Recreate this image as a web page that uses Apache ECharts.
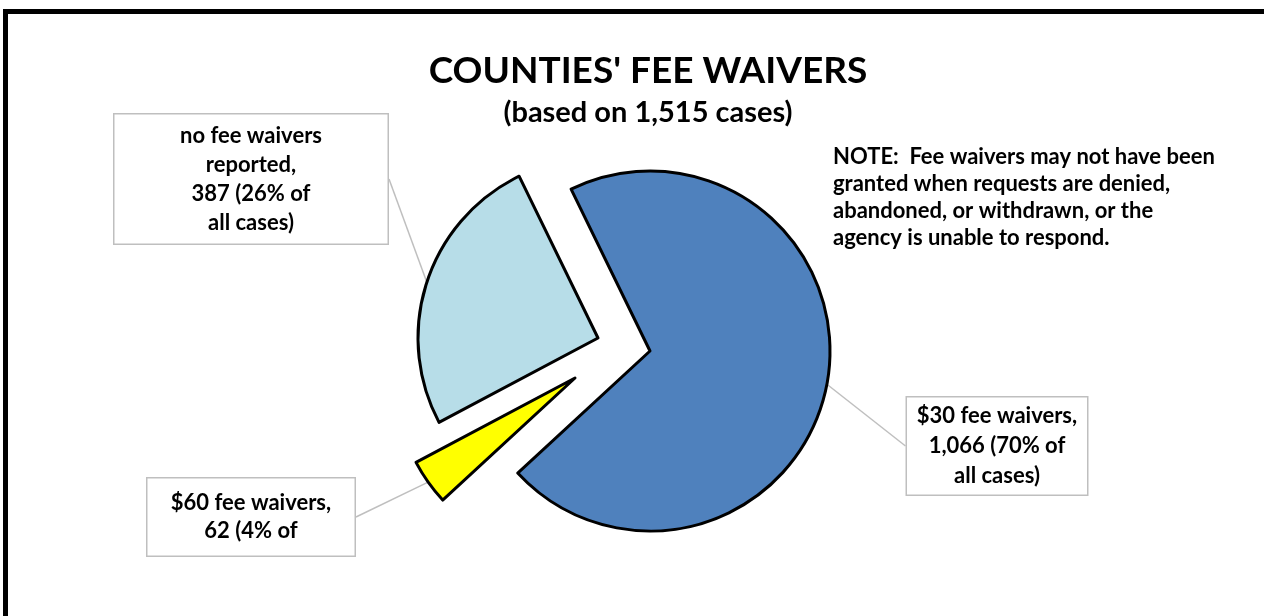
<!DOCTYPE html>
<html>
<head>
<meta charset="utf-8">
<script src="https://cdn.jsdelivr.net/npm/echarts@6/dist/echarts.min.js"></script>
<style>
  html, body { margin: 0; padding: 0; background: #fff; }
  #chart { width: 1264px; height: 616px; }
</style>
</head>
<body>
<div id="chart"></div>
<script>
// data
var categories = ['$30 fee waivers', '$60 fee waivers', 'no fee waivers reported'];
var caseCounts = [1066, 62, 387];
var labelTexts = [
    '$30 fee waivers,\n1,066 (70% of\nall cases)',
    '$60 fee waivers,\n62 (4% of',
    'no fee waivers\nreported,\n387 (26% of\nall cases)'
];
var sliceColors = ['#4F81BD', '#FFFF00', '#B7DDE8'];

// each slice is pulled out by its own amount, so each gets its own series centre
var sliceCenters = [[650, 351], [575, 378], [598, 338]];
// callout boxes: centre, width, padding
var boxCenters = [[997, 446], [251, 517], [251, 179]];
var boxWidths = [180, 207, 273];
var boxPadding = [[4, 0, 3, 0], [14, 0, 7, 0], [13, 0, 0, 0]];
var boxLineHeights = [30, 28, 29];

var FONT = 'Lato';

var myChart = echarts.init(document.getElementById('chart'));

function makeSeries(k) {
    var data = categories.map(function (name, i) {
        if (i === k) {
            return {
                name: name,
                value: caseCounts[i],
                itemStyle: { color: sliceColors[i], borderColor: '#000', borderWidth: 3 }
            };
        }
        return {
            name: name,
            value: caseCounts[i],
            itemStyle: { color: 'rgba(0,0,0,0)', borderWidth: 0 },
            label: { show: false },
            labelLine: { show: false }
        };
    });
    return {
        type: 'pie',
        silent: true,
        animation: false,
        center: sliceCenters[k],
        radius: 180,
        startAngle: 116,
        clockwise: true,
        avoidLabelOverlap: false,
        label: {
            show: true,
            position: 'outside',
            formatter: function () { return labelTexts[k]; },
            fontFamily: FONT,
            fontWeight: 'bold',
            fontSize: 22,
            color: '#000',
            lineHeight: boxLineHeights[k],
            width: boxWidths[k],
            align: 'center',
            backgroundColor: '#fff',
            borderColor: '#BFBFBF',
            borderWidth: 1.5,
            padding: boxPadding[k]
        },
        labelLine: {
            show: true,
            smooth: false,
            length2: 0,
            lineStyle: { color: '#BFBFBF', width: 1.5 }
        },
        labelLayout: function () {
            return {
                x: boxCenters[k][0],
                y: boxCenters[k][1],
                align: 'center',
                verticalAlign: 'middle',
                moveOverlap: false
            };
        },
        data: data
    };
}

var option = {
    backgroundColor: '#fff',
    title: [
        {
            text: "COUNTIES' FEE WAIVERS",
            left: 643,
            top: 48,
            textAlign: 'center',
            textStyle: { fontFamily: FONT, fontWeight: 'bold', fontSize: 37, color: '#000' }
        },
        {
            text: '(based on 1,515 cases)',
            left: 643,
            top: 93,
            textAlign: 'center',
            textStyle: { fontFamily: FONT, fontWeight: 'bold', fontSize: 29, color: '#000' }
        },
        {
            text: 'NOTE:  Fee waivers may not have been\ngranted when requests are denied,\nabandoned, or withdrawn, or the\nagency is unable to respond.',
            left: 828,
            top: 138,
            textStyle: { fontFamily: FONT, fontWeight: 'bold', fontSize: 22, lineHeight: 27, color: '#000' }
        }
    ],
    graphic: [
        {
            type: 'rect',
            shape: { x: 5.5, y: 11.5, width: 1400, height: 800 },
            style: { fill: 'none', stroke: '#000', lineWidth: 5 },
            silent: true
        }
    ],
    series: [makeSeries(0), makeSeries(1), makeSeries(2)]
};

myChart.setOption(option);
</script>
</body>
</html>
